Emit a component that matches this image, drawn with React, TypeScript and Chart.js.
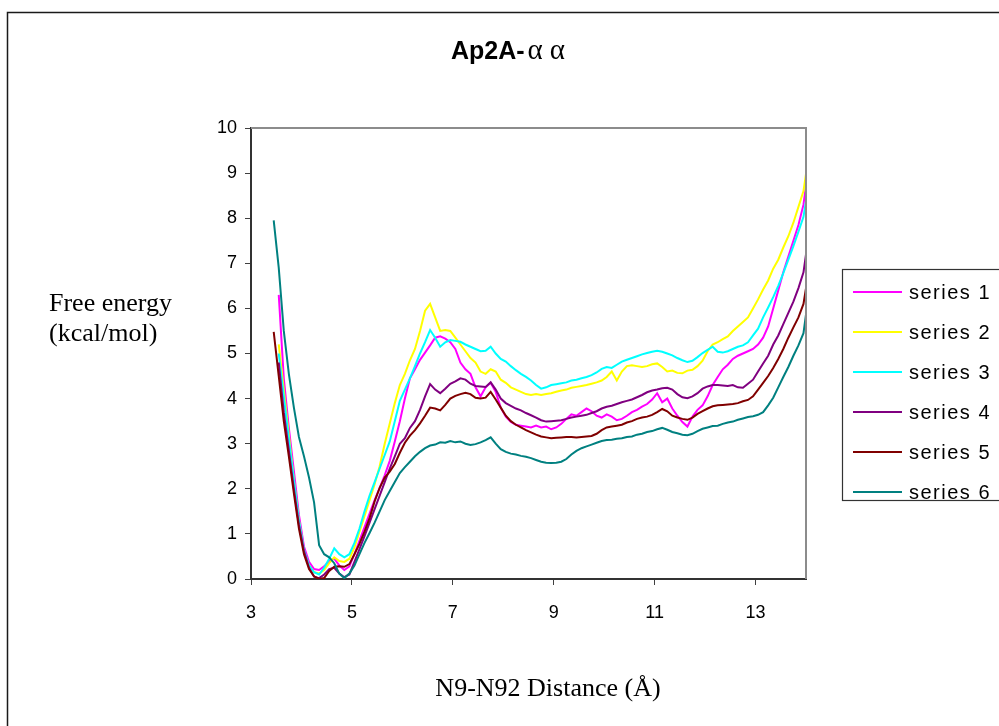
import React, { useEffect, useRef } from "react";
import { Chart, registerables } from "chart.js";

Chart.register(...registerables);

// N9-N92 distance grid (Å), shared by every series
const distance = [
  3.45, 3.55, 3.65, 3.75, 3.85, 3.95, 4.05, 4.15, 4.25, 4.35,
  4.45, 4.55, 4.65, 4.75, 4.85, 4.95, 5.05, 5.15, 5.25, 5.35,
  5.45, 5.55, 5.65, 5.75, 5.85, 5.95, 6.05, 6.15, 6.25, 6.35,
  6.45, 6.55, 6.65, 6.75, 6.85, 6.95, 7.05, 7.15, 7.25, 7.35,
  7.45, 7.55, 7.65, 7.75, 7.85, 7.95, 8.05, 8.15, 8.25, 8.35,
  8.45, 8.55, 8.65, 8.75, 8.85, 8.95, 9.05, 9.15, 9.25, 9.35,
  9.45, 9.55, 9.65, 9.75, 9.85, 9.95, 10.05, 10.15, 10.25, 10.35,
  10.45, 10.55, 10.65, 10.75, 10.85, 10.95, 11.05, 11.15, 11.25, 11.35,
  11.45, 11.55, 11.65, 11.75, 11.85, 11.95, 12.05, 12.15, 12.25, 12.35,
  12.45, 12.55, 12.65, 12.75, 12.85, 12.95, 13.05, 13.15, 13.25, 13.35,
  13.45, 13.55, 13.65, 13.75, 13.85, 13.95, 14.0,
];

// Free energy (kcal/mol) per series
const series1 = [
  null, 6.3, 4.45, 3.35, 2.4, 1.42, 0.72, 0.38, 0.22, 0.2,
  0.28, 0.4, 0.45, 0.3, 0.2, 0.28, 0.55, 0.85, 1.15, 1.45,
  1.75, 2.02, 2.3, 2.62, 3.05, 3.5, 4.0, 4.45, 4.65, 4.86,
  5.02, 5.18, 5.35, 5.38, 5.33, 5.25, 5.1, 4.8, 4.65, 4.55,
  4.25, 4.05, 4.25, 4.35, 4.15, 3.8, 3.6, 3.48, 3.42, 3.4,
  3.38, 3.36, 3.4, 3.36, 3.38, 3.32, 3.36, 3.44, 3.55, 3.65,
  3.62, 3.7, 3.78, 3.72, 3.62, 3.58, 3.65, 3.6, 3.52, 3.55,
  3.62, 3.7, 3.75, 3.82, 3.88, 3.98, 4.12, 3.92, 4.0, 3.78,
  3.62, 3.48, 3.38, 3.6, 3.75, 3.85, 4.05, 4.3, 4.48, 4.65,
  4.75, 4.88, 4.95, 5.0, 5.05, 5.1, 5.2, 5.35, 5.6, 6.0,
  6.4, 6.8, 7.15, 7.5, 7.85, 8.3, 8.72,
];
const series2 = [
  null, 5.2, 4.2, 3.2, 2.2, 1.3, 0.62, 0.3, 0.15, 0.12,
  0.2, 0.35, 0.48, 0.4, 0.38, 0.45, 0.7, 1.05, 1.4, 1.75,
  2.1, 2.5, 3.0, 3.45, 3.9, 4.3, 4.55, 4.85, 5.1, 5.5,
  5.95, 6.1, 5.8, 5.5, 5.52, 5.5, 5.35, 5.2, 5.05, 4.9,
  4.8, 4.6, 4.55, 4.65, 4.6, 4.42, 4.35, 4.25, 4.2, 4.15,
  4.1, 4.08, 4.1, 4.08, 4.1, 4.12, 4.15, 4.18, 4.2, 4.24,
  4.26, 4.28, 4.3, 4.33, 4.36, 4.4, 4.48, 4.6, 4.4, 4.6,
  4.72, 4.74, 4.72, 4.7, 4.72, 4.76, 4.78, 4.7, 4.6, 4.62,
  4.57, 4.56, 4.62, 4.64, 4.72, 4.84, 5.05, 5.2, 5.25, 5.32,
  5.38, 5.5, 5.6, 5.7, 5.8, 6.0, 6.2, 6.42, 6.62, 6.88,
  7.08, 7.35, 7.6, 7.9, 8.25, 8.6, 8.98,
];
const series3 = [
  null, 5.0, 4.05, 3.1, 2.2, 1.3, 0.65, 0.3, 0.15, 0.1,
  0.25, 0.45, 0.68, 0.55, 0.48, 0.55, 0.8, 1.12, 1.5, 1.85,
  2.15, 2.45, 2.75, 3.05, 3.5, 3.95, 4.2, 4.45, 4.72, 5.0,
  5.25, 5.52, 5.35, 5.15, 5.25, 5.3, 5.28, 5.26, 5.2, 5.15,
  5.1, 5.05, 5.06, 5.15, 5.0, 4.88, 4.82, 4.72, 4.63, 4.55,
  4.48, 4.4, 4.3, 4.22, 4.25, 4.3, 4.32, 4.34, 4.36, 4.4,
  4.42, 4.45, 4.48, 4.52, 4.58, 4.66, 4.7, 4.68, 4.75, 4.82,
  4.86, 4.9, 4.94, 4.98, 5.01, 5.04, 5.06, 5.04, 5.0, 4.96,
  4.9, 4.85, 4.81, 4.84, 4.92, 5.01, 5.08, 5.15, 5.04, 5.02,
  5.05, 5.1, 5.15, 5.18, 5.25, 5.4, 5.55, 5.8, 6.02, 6.25,
  6.5, 6.78, 7.08, 7.38, 7.7, 8.03, 8.38,
];
const series4 = [
  null, 4.8, 3.7, 2.85, 2.0, 1.2, 0.62, 0.25, 0.05, 0.02,
  0.1, 0.22, 0.25, 0.12, 0.04, 0.1, 0.38, 0.66, 0.95, 1.25,
  1.55, 1.85, 2.15, 2.45, 2.72, 3.0, 3.12, 3.35, 3.5, 3.75,
  4.05, 4.32, 4.2, 4.12, 4.22, 4.33, 4.38, 4.45, 4.42, 4.33,
  4.28, 4.27, 4.26, 4.36, 4.2, 4.0, 3.9, 3.84, 3.78, 3.74,
  3.68, 3.63, 3.58, 3.52, 3.49, 3.5, 3.51, 3.52, 3.55, 3.58,
  3.6, 3.62, 3.64, 3.68, 3.72, 3.78, 3.82, 3.84, 3.88, 3.92,
  3.95, 3.98, 4.03, 4.08, 4.14, 4.18, 4.2, 4.23, 4.24, 4.2,
  4.1, 4.03, 4.01, 4.05, 4.12, 4.22, 4.27, 4.3, 4.3, 4.29,
  4.28, 4.3, 4.25, 4.24, 4.33, 4.42, 4.6, 4.78, 4.95, 5.2,
  5.4, 5.65, 5.9, 6.15, 6.45, 6.8, 7.2,
];
const series5 = [
  5.48, 4.5, 3.5, 2.72, 1.9, 1.12, 0.55, 0.22, 0.06, 0.0,
  0.02, 0.18, 0.27, 0.28, 0.27, 0.33, 0.55, 0.78, 1.05, 1.35,
  1.72, 2.02, 2.25, 2.38, 2.55, 2.8, 3.02, 3.18, 3.3, 3.45,
  3.62, 3.8, 3.78, 3.74, 3.86, 4.0, 4.06, 4.1, 4.13, 4.1,
  4.02, 4.0, 4.02, 4.15, 3.98, 3.8, 3.62, 3.5, 3.42, 3.36,
  3.3, 3.25, 3.2, 3.16, 3.14, 3.12, 3.13, 3.14, 3.15, 3.15,
  3.14, 3.15, 3.16, 3.17, 3.22, 3.3, 3.36, 3.38, 3.4, 3.42,
  3.47, 3.5, 3.55, 3.58, 3.6, 3.64, 3.7, 3.77, 3.72, 3.62,
  3.58, 3.55, 3.53, 3.58, 3.66, 3.72, 3.78, 3.83, 3.85, 3.86,
  3.87, 3.88, 3.9, 3.94, 3.97, 4.05, 4.2, 4.35, 4.5, 4.68,
  4.88, 5.1, 5.35, 5.58, 5.8, 6.1, 6.45,
];
const series6 = [
  7.95, 6.9, 5.5, 4.55, 3.8, 3.15, 2.72, 2.25, 1.7, 0.75,
  0.55, 0.48, 0.35, 0.12, 0.02, 0.12, 0.3, 0.55, 0.8, 1.02,
  1.25, 1.5, 1.75, 1.95, 2.15, 2.35, 2.48, 2.6, 2.72, 2.82,
  2.9, 2.96, 2.98, 3.03, 3.02, 3.06, 3.03, 3.05, 3.0, 2.97,
  2.99, 3.03, 3.08, 3.14, 3.0, 2.88, 2.82, 2.78, 2.76, 2.73,
  2.71, 2.68, 2.64, 2.6, 2.58, 2.57, 2.58, 2.6, 2.66, 2.76,
  2.84, 2.9, 2.94, 2.98, 3.02, 3.06, 3.08, 3.09, 3.11, 3.12,
  3.15, 3.16, 3.2, 3.22, 3.26, 3.28, 3.32, 3.35, 3.31, 3.26,
  3.23, 3.2, 3.19, 3.22, 3.28, 3.33, 3.36, 3.39, 3.4, 3.44,
  3.47, 3.49, 3.53, 3.56, 3.59, 3.61, 3.64, 3.7, 3.85, 4.02,
  4.25, 4.48, 4.7, 4.95, 5.18, 5.45, 5.87,
];

const seriesNames = ["series 1", "series 2", "series 3", "series 4", "series 5", "series 6"];
const seriesColors = ["#FF00FF", "#FFFF00", "#00FFFF", "#800080", "#800000", "#008080"];
const seriesValues = [series1, series2, series3, series4, series5, series6];

const xTickValues = [3, 5, 7, 9, 11, 13];
const yTickValues = [0, 1, 2, 3, 4, 5, 6, 7, 8, 9, 10];

const titleMain = "Ap2A-";
const titleGreek = ["α", "α"];
const yTitleLines = ["Free energy", "(kcal/mol)"];
const xTitle = "N9-N92 Distance (Å)";

const SANS = "Arial, 'Liberation Sans', sans-serif";
const SERIF = "'Times New Roman', 'Liberation Serif', serif";

const decorations = {
  id: "decorations",
  afterDraw(chart: any) {
    const ctx = chart.ctx as CanvasRenderingContext2D;
    const { left, right, top, bottom } = chart.chartArea;
    ctx.save();

    // outer chart border
    ctx.strokeStyle = "#1a1a1a";
    ctx.lineWidth = 1.5;
    ctx.strokeRect(7.5, 12.5, 1200, 1000);

    // plot frame (top and right edges)
    ctx.strokeStyle = "#8c8c8c";
    ctx.lineWidth = 2;
    ctx.beginPath();
    ctx.moveTo(left, top);
    ctx.lineTo(right, top);
    ctx.lineTo(right, bottom);
    ctx.stroke();

    // title: bold sans part followed by two greek letters
    ctx.fillStyle = "#000";
    ctx.textBaseline = "alphabetic";
    ctx.textAlign = "left";
    ctx.font = `bold 25px ${SANS}`;
    const mainW = ctx.measureText(titleMain).width;
    ctx.font = `29px ${SERIF}`;
    const greekW = ctx.measureText(titleGreek[0]).width;
    const gap = 7;
    const totalW = mainW + 3 + greekW * 2 + gap;
    let tx = 508 - totalW / 2;
    ctx.font = `bold 25px ${SANS}`;
    ctx.fillText(titleMain, tx, 59);
    tx += mainW + 3;
    ctx.font = `29px ${SERIF}`;
    ctx.fillText(titleGreek[0], tx, 59);
    tx += greekW + gap;
    ctx.fillText(titleGreek[1], tx, 59);

    // axis titles
    ctx.font = `26px ${SERIF}`;
    ctx.fillText(yTitleLines[0], 49, 311);
    ctx.fillText(yTitleLines[1], 49, 341);
    ctx.textAlign = "center";
    ctx.fillText(xTitle, 548, 696);

    // legend
    const lx = 842.5;
    const ly = 269.5;
    ctx.fillStyle = "#fff";
    ctx.fillRect(lx, ly, 300, 231);
    ctx.strokeStyle = "#333";
    ctx.lineWidth = 1.2;
    ctx.strokeRect(lx, ly, 300, 231);
    ctx.textAlign = "left";
    ctx.textBaseline = "middle";
    ctx.font = `20px ${SANS}`;
    (ctx as any).letterSpacing = "1.5px";
    seriesNames.forEach((name, i) => {
      const y = 292 + i * 40;
      ctx.strokeStyle = seriesColors[i];
      ctx.lineWidth = 2;
      ctx.beginPath();
      ctx.moveTo(853, y);
      ctx.lineTo(902, y);
      ctx.stroke();
      ctx.fillStyle = "#000";
      ctx.fillText(name, 909, y + 1);
    });
    (ctx as any).letterSpacing = "0px";
    ctx.restore();
  },
};

export default function App() {
  const canvasRef = useRef<HTMLCanvasElement>(null);

  useEffect(() => {
    const canvas = canvasRef.current;
    if (!canvas) return;

    const datasets = seriesValues.map((vals, i) => ({
      label: seriesNames[i],
      data: distance
        .map((d, j) => ({ x: d, y: vals[j] }))
        .filter((p) => p.y !== null),
      borderColor: seriesColors[i],
      backgroundColor: seriesColors[i],
      borderWidth: 2,
      pointRadius: 0,
      tension: 0,
      fill: false,
      order: seriesNames.length - 1 - i,
    }));

    const chart = new Chart(canvas, {
      type: "line",
      data: { datasets } as any,
      options: {
        animation: false,
        responsive: false,
        devicePixelRatio: 1,
        layout: { padding: { left: 191, top: 128, right: 193, bottom: 97 } },
        plugins: {
          legend: { display: false },
          title: { display: false },
          tooltip: { enabled: false },
        },
        scales: {
          x: {
            type: "linear",
            min: 3,
            max: 14,
            afterBuildTicks: (s: any) => {
              s.ticks = xTickValues.map((v) => ({ value: v }));
            },
            afterFit: (s: any) => {
              s.height = 50;
            },
            grid: { drawOnChartArea: false, drawTicks: true, tickLength: 6, color: "#404040", lineWidth: 1 },
            border: { display: true, color: "#333", width: 2 },
            ticks: {
              font: { family: SANS, size: 18 },
              color: "#000",
              padding: 17,
              maxRotation: 0,
              autoSkip: false,
            },
          },
          y: {
            type: "linear",
            min: 0,
            max: 10,
            afterBuildTicks: (s: any) => {
              s.ticks = yTickValues.map((v) => ({ value: v }));
            },
            afterFit: (s: any) => {
              s.width = 60;
            },
            grid: { drawOnChartArea: false, drawTicks: true, tickLength: 6, color: "#404040", lineWidth: 1 },
            border: { display: true, color: "#333", width: 2 },
            ticks: {
              font: { family: SANS, size: 18 },
              color: "#000",
              padding: 8,
              autoSkip: false,
            },
          },
        },
      },
      plugins: [decorations],
    } as any);

    return () => chart.destroy();
  }, []);

  return (
    <div style={{ position: "absolute", left: 0, top: 0, width: 999, height: 726, background: "#fff", overflow: "hidden" }}>
      <canvas ref={canvasRef} width={999} height={726} style={{ display: "block", width: 999, height: 726 }} />
    </div>
  );
}
